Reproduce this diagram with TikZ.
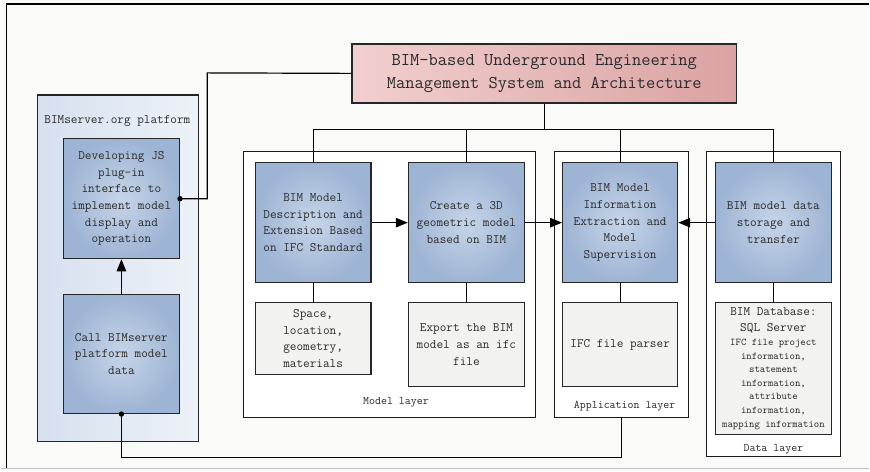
\documentclass[tikz,border=0pt]{standalone}
\usepackage{fontspec}
\usetikzlibrary{arrows.meta}
\definecolor{pagebg}{HTML}{FAFAF8}
\definecolor{blueIn}{HTML}{C6D4E8}
\definecolor{blueOut}{HTML}{9EB4D4}
\definecolor{grayBox}{HTML}{F2F2F0}
\definecolor{panelL}{HTML}{D6E0EF}
\definecolor{panelR}{HTML}{EEF2F8}
\definecolor{titleL}{HTML}{F1CFCE}
\definecolor{titleR}{HTML}{DBA2A3}
\definecolor{ink}{HTML}{2A2A2A}
\newcommand\boxfont{\ttfamily\fontsize{12.9}{16.7}\selectfont}
\newcommand\smallboxfont{\ttfamily\fontsize{10.3}{13.6}\selectfont}
\newcommand\layerfont{\ttfamily\fontsize{11.6}{14}\selectfont}
\newcommand\titlefont{\ttfamily\fontsize{18}{23}\selectfont}
\begin{document}
\begin{tikzpicture}[x=1pt,y=-1pt,
  bluebox/.style={draw=black!85, line width=1.4pt, inner sep=1pt, align=center,
    font=\boxfont, text=ink, minimum width=116pt, minimum height=120pt,
    inner color=blueIn, outer color=blueOut},
  graybox/.style={draw=black!85, line width=1.4pt, inner sep=1pt, align=center,
    font=\boxfont, text=ink, minimum width=116pt, fill=grayBox},
  layerbox/.style={draw=black!90, line width=1.3pt, fill=white, inner sep=0pt},
  layerlabel/.style={font=\layerfont, text=ink, inner sep=0pt},
  conn/.style={draw=black, line width=1.2pt},
  arr/.style={conn, -{Triangle[length=12pt,width=9.5pt]}}]

% canvas and frame
\fill[pagebg] (0,0) rectangle (870,472);
\draw[line width=1.5pt] (6,469) -- (6,4) -- (870,4);
\draw[black!25, line width=1.2pt] (0,469.6) -- (870,469.6);

% title
\node[draw=black!85, line width=1.4pt, left color=titleL, right color=titleR,
  minimum width=385pt, minimum height=59pt, align=center, font=\titlefont,
  text=ink, inner sep=0pt] (title) at (544.5,73.5)
  {BIM-based Underground Engineering\\Management System and Architecture};

% BIMserver platform
\node[draw=black!85, line width=1.4pt, left color=panelL, right color=panelR,
  minimum width=161pt, minimum height=347pt, inner sep=0pt] (platform) at (117.5,268.5) {};
\node[layerlabel, font=\boxfont] (platformlabel) at (117,121) {BIMserver.org platform};
\node[bluebox] (js) at (121,199)
  {Developing JS\\plug-in\\interface to\\implement model\\display and\\operation};
\node[bluebox, minimum height=119pt] (call) at (121,354.5)
  {Call BIMserver\\platform model\\data};

% layers
\node[layerbox, minimum width=293pt, minimum height=266pt] (mlayer) at (389.5,285) {};
\node[layerbox, minimum width=134pt, minimum height=266pt] (alayer) at (622,285) {};
\node[layerbox, minimum width=134pt, minimum height=305pt] (dlayer) at (774,304.5) {};
\node[layerlabel] (mlabel) at (396,403) {Model layer};
\node[layerlabel] (alabel) at (625,407) {Application layer};
\node[layerlabel] (dlabel) at (774,450) {Data layer};

% upper row
\node[bluebox] (desc) at (313,223)
  {BIM Model\\Description and\\Extension Based\\on IFC Standard};
\node[bluebox] (create) at (466.5,223)
  {Create a 3D\\geometric model\\based on BIM};
\node[bluebox, minimum width=115pt] (info) at (620.5,223)
  {BIM Model\\Information\\Extraction and\\Model\\Supervision};
\node[bluebox] (store) at (774,223)
  {BIM model data\\storage and\\transfer};

% lower row
\node[graybox, minimum height=72pt] (space) at (313,339)
  {Space,\\location,\\geometry,\\materials};
\node[graybox, minimum height=84pt] (export) at (466.5,345)
  {Export the BIM\\model as an ifc\\file};
\node[graybox, minimum width=115pt, minimum height=84pt] (parser) at (620.5,345)
  {IFC file parser};
\node[graybox, minimum height=132pt] (db) at (774,369)
  {BIM Database:\\SQL Server\\[-3pt]
   \parbox[t]{114pt}{\centering\smallboxfont IFC file project\\information,\\statement\\information,\\attribute\\information,\\mapping information}};

% tree from the title
\coordinate (bus) at (544.5,130);
\draw[conn] (title.south) -- (bus);
\draw[conn] (desc.north) |- (bus) -| (store.north);
\draw[conn] (create.north) -- (create.north |- bus);
\draw[conn] (info.north) -- (info.north |- bus);

% links between upper and lower boxes
\draw[conn] (desc.south) -- (space.north);
\draw[conn] (create.south) -- (export.north);
\draw[conn] (info.south) -- (parser.north);
\draw[conn] (store.south) -- (db.north);

% data flow arrows
\draw[arr] (desc.east) -- (create.west);
\draw[arr] (create.east) -- (info.west);
\draw[arr] (store.west) -- (info.east);
\draw[arr] (call.north) -- (js.south);

% platform links
\coordinate (jsbend) at (207,73);
\draw[conn] (js.east) -| (jsbend) -- (title.west);
\fill (js.east) circle[radius=2.7pt];
\draw[conn] (call.south) |- (alayer.south |- 0,458) -- (alayer.south);
\fill (call.south) circle[radius=2.7pt];
\end{tikzpicture}
\end{document}
